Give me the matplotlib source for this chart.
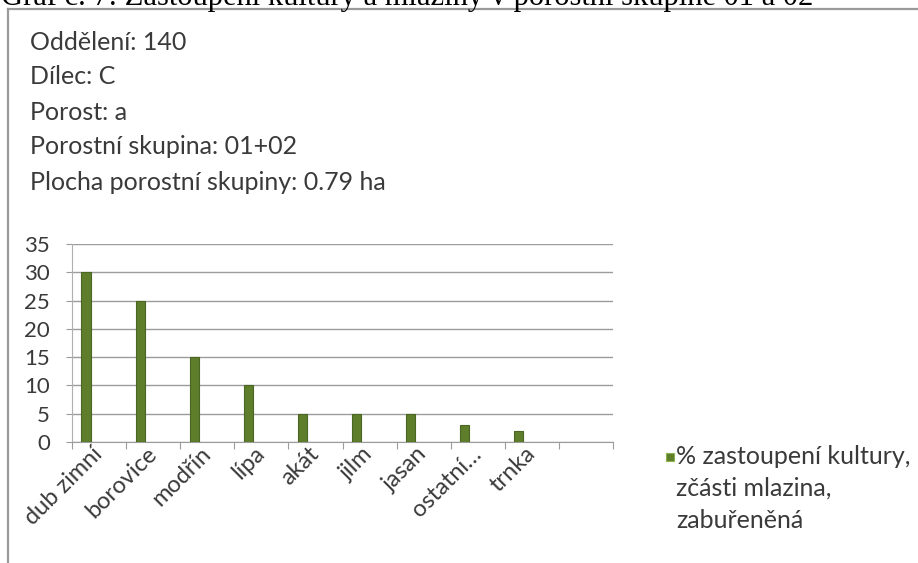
import matplotlib.pyplot as plt
from matplotlib.lines import Line2D
from matplotlib.patches import Rectangle
import numpy as np

# chart data
druhy = ["dub zimní", "borovice", "modřín", "lípa", "akát", "jilm", "jasan",
         "ostatní…", "trnka", ""]
zastoupeni = [30, 25, 15, 10, 5, 5, 5, 3, 2, np.nan]
y_ticks = [0, 5, 10, 15, 20, 25, 30, 35]

info_lines = ["Oddělení: 140", "Dílec: C", "Porost: a",
              "Porostní skupina: 01+02", "Plocha porostní skupiny: 0.79 ha"]
legend_lines = ["% zastoupení kultury,", "zčásti mlazina,", "zabuřeněná"]
title = "Graf č. 7: Zastoupení kultury a mlaziny v porostní skupině 01 a 02"

W, H = 918, 563
plt.rcParams["font.family"] = ["Lato", "DejaVu Sans"]
TXT = "#3a3a3a"

fig = plt.figure(figsize=(W / 100, H / 100), dpi=100)
fig.patch.set_facecolor("white")


def fx(px):
    return px / W


def fy(py):
    return 1 - py / H


# clipped document caption above the chart frame
fig.text(fx(1), fy(5), title, family="Liberation Serif", fontsize=22,
         ha="left", va="baseline", color="black")

# chart frame (top and left edges visible)
fig.add_artist(Line2D([fx(8), 1], [fy(9), fy(9)], color="#9a9a9a", lw=1.6))
fig.add_artist(Line2D([fx(8), fx(8)], [fy(9), 0], color="#9a9a9a", lw=1.6))

# info text block
for i, line in enumerate(info_lines):
    fig.text(fx(30), fy(42 + i * 35), line, fontsize=18, color=TXT,
             ha="left", va="center")

ax = fig.add_axes([fx(72), fy(442), fx(613) - fx(72), (442 - 244) / H])
x = np.arange(len(druhy))
ax.bar(x - 0.24, zastoupeni, width=0.17, color="#5f7e2c",
       edgecolor="#4b6622", linewidth=0.8, zorder=3)

ax.set_xlim(-0.5, len(druhy) - 0.5)
ax.set_ylim(0, 35)
ax.set_yticks(y_ticks)
ax.set_yticklabels([str(v) for v in y_ticks], fontsize=16, color=TXT)
ax.yaxis.grid(True, color="#9c9c9c", lw=1.0)
ax.set_axisbelow(True)

ax.set_xticks(np.arange(len(druhy) + 1) - 0.5, minor=False)
ax.set_xticklabels([])
ax.set_xticks(x, minor=True)
ax.set_xticklabels(druhy, minor=True, rotation=45, ha="right", va="center",
                   rotation_mode="anchor", fontsize=17, color=TXT)
ax.tick_params(axis="x", which="minor", length=0, pad=6)
ax.tick_params(axis="x", which="major", length=5, color="#9c9c9c")
ax.tick_params(axis="y", length=4, color="#9c9c9c", pad=12)

for s in ["top", "right"]:
    ax.spines[s].set_visible(False)
ax.spines["left"].set_color("#b0b0b0")
ax.spines["bottom"].set_color("#9c9c9c")

# legend
fig.add_artist(Rectangle((fx(666), fy(461)), fx(8), 8 / H,
                         facecolor="#5f7e2c", edgecolor="#8bb34a", lw=0.8))
for i, line in enumerate(legend_lines):
    fig.text(fx(676), fy(457 + i * 31.5), line, fontsize=18, color=TXT,
             ha="left", va="center")

fig.savefig("out.png", dpi=100)
